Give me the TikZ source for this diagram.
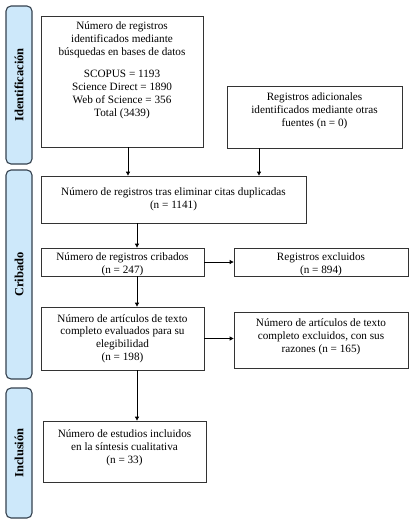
\documentclass[tikz,border=0pt]{standalone}
\usepackage{fontspec}
\setmainfont{Liberation Serif}
\usetikzlibrary{arrows.meta}
\definecolor{sidefill}{HTML}{CDE8FA}
\definecolor{sidedraw}{HTML}{34414E}
\definecolor{boxdraw}{HTML}{333333}
\tikzset{
  box/.style={draw=boxdraw, line width=0.8pt, fill=white, inner sep=0pt},
  txt/.style={align=center, font=\fontsize{11.2}{12.8}\selectfont, inner sep=0pt},
  side/.style={draw=sidedraw, line width=1.1pt, fill=sidefill, rounded corners=5pt, minimum width=26pt, inner sep=0pt},
  sidetxt/.style={rotate=90, font=\fontsize{12.5}{14}\selectfont\bfseries, inner sep=0pt},
  arr/.style={-{Triangle[length=4pt,width=4pt]}, line width=0.8pt, draw=black}
}
\begin{document}
\begin{tikzpicture}[x=1pt,y=-1pt]
\useasboundingbox (0,0) rectangle (415,523);
% side bars
\node[side, minimum height=158pt] (s1) at (19,85) {};
\node[sidetxt] (t1) at (s1.center) {Identificación};
\node[side, minimum height=209pt] (s2) at (19,274.5) {};
\node[sidetxt] (t2) at (s2.center) {Cribado};
\node[side, minimum height=130pt] (s3) at (19,453) {};
\node[sidetxt] (t3) at (s3.center) {Inclusión};
% boxes
\node[box, minimum width=162pt, minimum height=131pt] (b1) at (122,81.5) {};
\node[txt, anchor=north] (b1t) at (122,21.5) {Número de registros\\identificados mediante\\búsquedas en bases de datos\\[10pt]SCOPUS = 1193\\Science Direct = 1890\\Web of Science = 356\\Total (3439)};
\node[box, minimum width=175pt, minimum height=62pt] (b2) at (314.5,117) {};
\node[txt] (b2t) at (314.5,111) {Registros adicionales\\identificados mediante otras\\fuentes (n = 0)};
\node[box, minimum width=265pt, minimum height=47pt] (b3) at (173.5,199.5) {};
\node[txt] (b3t) at (173.5,199) {Número de registros tras eliminar citas duplicadas\\(n = 1141)};
\node[box, minimum width=163pt, minimum height=28pt] (b4) at (122.5,262) {};
\node[txt] (b4t) at (122.5,264) {Número de registros cribados\\(n = 247)};
\node[box, minimum width=174pt, minimum height=28pt] (b5) at (321,262) {};
\node[txt] (b5t) at (321,264) {Registros excluidos\\(n = 894)};
\node[box, minimum width=163pt, minimum height=63pt] (b6) at (122.5,338.5) {};
\node[txt] (b6t) at (122.5,338.5) {Número de artículos de texto\\completo evaluados para su\\elegibilidad\\(n = 198)};
\node[box, minimum width=174pt, minimum height=56pt] (b7) at (321,340) {};
\node[txt] (b7t) at (321,336.5) {Número de artículos de texto\\completo excluidos, con sus\\razones (n = 165)};
\node[box, minimum width=163pt, minimum height=61pt] (b8) at (124.5,451.5) {};
\node[txt] (b8t) at (124.5,447.5) {Número de estudios incluidos\\en la síntesis cualitativa\\(n = 33)};
% arrow columns
\coordinate (c1) at (128,0);
\coordinate (c2) at (259,0);
\coordinate (c3) at (137,0);
\draw[arr] (b1.south -| c1) -- (b3.north -| c1);
\draw[arr] (b2.south -| c2) -- (b3.north -| c2);
\draw[arr] (b3.south -| c3) -- (b4.north -| c3);
\draw[arr] (b4.east) -- (b5.west);
\draw[arr] (b4.south -| c3) -- (b6.north -| c3);
\draw[arr] (b6.east) -- (b7.west |- b6.east);
\draw[arr] (b6.south -| c3) -- (b8.north -| c3);
\end{tikzpicture}
\end{document}
